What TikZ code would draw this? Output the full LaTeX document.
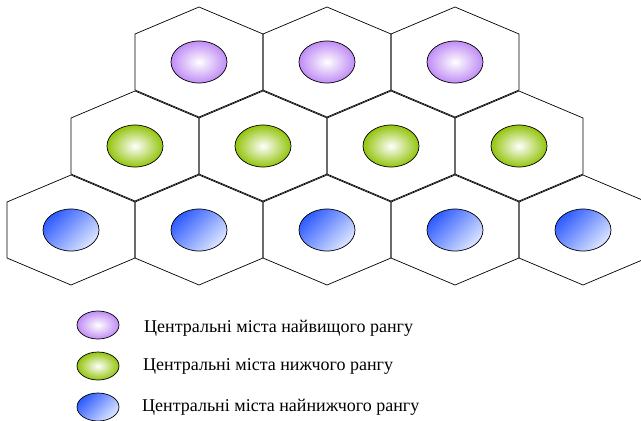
\documentclass[tikz,border=0pt]{standalone}
\usepackage{fontspec}
\setmainfont{Liberation Serif}
\usetikzlibrary{shapes.geometric}

\definecolor{CityPurple}{HTML}{C08CF5}
\definecolor{CityGreen}{HTML}{93C40C}
\definecolor{CityBlue}{HTML}{2E5BFF}
\definecolor{CityBlueLight}{HTML}{DDE6FF}

\begin{document}
\begin{tikzpicture}[
    x=1pt,
    y=-1pt,
    font=\fontsize{18}{20}\selectfont,
    hexcell/.style={draw=black, line width=0.7pt},
    city/.style={ellipse, draw=black, line width=0.7pt,
                 minimum width=56pt, minimum height=42pt, inner sep=0pt},
    keycity/.style={city, minimum width=42pt, minimum height=28pt},
    toprank/.style={inner color=white, outer color=CityPurple},
    midrank/.style={inner color=white, outer color=CityGreen},
    lowrank/.style={shading=axis, top color=CityBlue,
                    middle color=CityBlue!65!white,
                    bottom color=CityBlueLight, shading angle=45},
    keytext/.style={anchor=base west, inner sep=0pt}
]
\useasboundingbox (0,0) rectangle (641,421);
\clip (0,0) rectangle (641,421);

% Hexagonal service areas, one row per rank, each row shifted by half a cell.
\foreach \cy/\xlist in {62/{199,327,455},
                        146/{135,263,391,519},
                        230/{71,199,327,455,583}} {
    \foreach \cx in \xlist {
        \draw[hexcell] (\cx,\cy) ++(0,-55) -- ++(64,27) -- ++(0,56)
              -- ++(-64,27) -- ++(-64,-27) -- ++(0,-56) -- cycle;
    }
}

% Central places in the middle of their cells.
\foreach \cx [count=\i] in {199,327,455}
    \node[city, toprank] (top-\i) at (\cx,62) {};
\foreach \cx [count=\i] in {135,263,391,519}
    \node[city, midrank] (mid-\i) at (\cx,146) {};
\foreach \cx [count=\i] in {71,199,327,455,583}
    \node[city, lowrank] (low-\i) at (\cx,230) {};

% Legend
\node[keycity, toprank] (key-top) at (98,325) {};
\node[keycity, midrank] (key-mid) at (98,366) {};
\node[keycity, lowrank] (key-low) at (98,407) {};

\node[keytext] (label-top) at (144,332) {Центральні міста найвищого рангу};
\node[keytext] (label-mid) at (143,370) {Центральні міста нижчого рангу};
\node[keytext] (label-low) at (142,411) {Центральні міста найнижчого рангу};
\end{tikzpicture}
\end{document}
